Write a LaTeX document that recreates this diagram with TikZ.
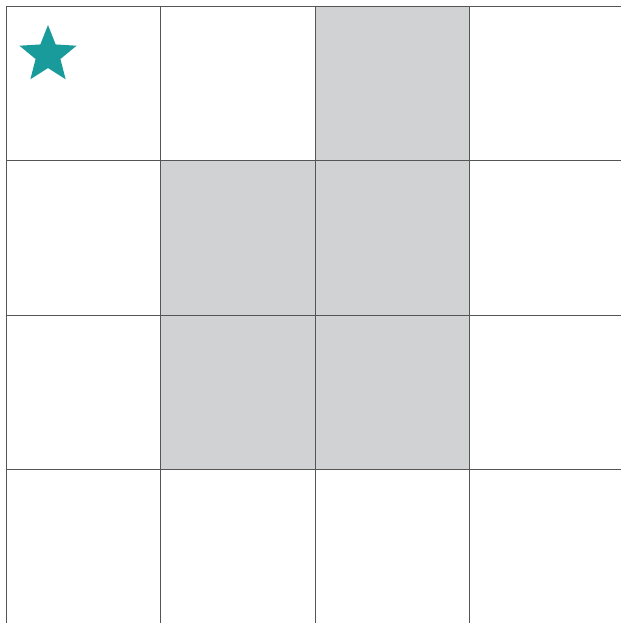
\documentclass[tikz,border=0pt]{standalone}
\usetikzlibrary{shapes.geometric}
\definecolor{gridgray}{HTML}{555555}
\definecolor{cellgray}{HTML}{D1D2D4}
\definecolor{teal}{HTML}{1A9B9B}
\tikzset{
  gridline/.style={draw=gridgray, line width=1pt},
  shaded/.style={fill=cellgray},
  starmark/.style={star, star points=5, star point ratio=2.3, fill=teal, draw=none, inner sep=0pt, minimum size=60pt}
}
\begin{document}
\begin{tikzpicture}[x=1pt,y=-1pt]
\useasboundingbox (0,0) rectangle (621,623);
\fill[white] (0,0) rectangle (621,623);
% shaded cells
\fill[shaded] (315,6.5) rectangle (469.5,160.5);
\fill[shaded] (160.5,160.5) rectangle (469.5,469.5);
% grid
\foreach \x in {6.5,160.5,315.5,469.5} \draw[gridline] (\x,6.5) -- (\x,623);
\foreach \y in {6.5,160.5,315.5,469.5} \draw[gridline] (6.5,\y) -- (621,\y);
% star
\node[starmark] (s) at (48,55) {};
\end{tikzpicture}
\end{document}
